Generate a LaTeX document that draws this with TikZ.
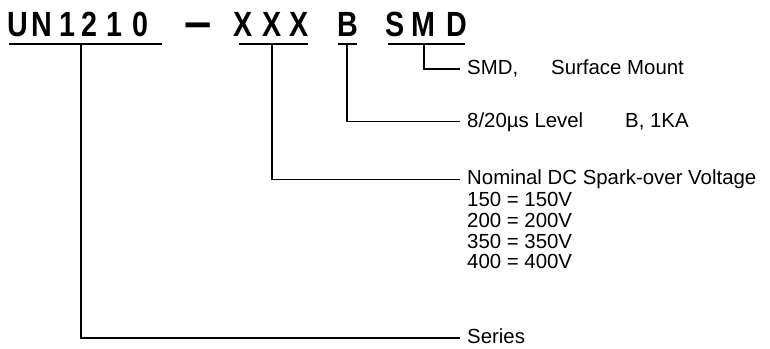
\documentclass[tikz,border=0pt]{standalone}
\usepackage{graphicx}
\usepackage{fontspec}
\setmainfont{Liberation Sans}
\begin{document}
\begin{tikzpicture}[x=1pt,y=-1pt,
  titlech/.style={anchor=base, inner sep=0pt, font=\fontsize{35}{40}\selectfont\bfseries},
  lbl/.style={anchor=base west, inner xsep=7pt, inner ysep=0pt, text height=11pt, text depth=0pt, font=\fontsize{20.4}{24}\selectfont},
  bar/.style={line width=1.5pt},
  conn/.style={line width=1.5pt}]
\useasboundingbox (0,0) rectangle (770,348);
% title characters
\node[titlech] (t1) at (18,36) {\scalebox{0.82}[1]{U}};
\node[titlech] (t2) at (41.5,36) {\scalebox{0.82}[1]{N}};
\node[titlech] (t3) at (67.5,36) {\scalebox{0.82}[1]{1}};
\node[titlech] (t4) at (89.5,36) {\scalebox{0.82}[1]{2}};
\node[titlech] (t5) at (114.5,36) {\scalebox{0.82}[1]{1}};
\node[titlech] (t6) at (140,36) {\scalebox{0.82}[1]{0}};
\node[titlech, anchor=north] (t7) at (198,22.3) {\scalebox{1.4}[1.4]{–}};
\node[titlech] (t8) at (243,36) {\scalebox{0.82}[1]{X}};
\node[titlech] (t9) at (272,36) {\scalebox{0.82}[1]{X}};
\node[titlech] (t10) at (299,36) {\scalebox{0.82}[1]{X}};
\node[titlech] (t11) at (347.5,36) {\scalebox{0.82}[1]{B}};
\node[titlech] (t12) at (395,36) {\scalebox{0.82}[1]{S}};
\node[titlech] (t13) at (423,36) {\scalebox{0.82}[1]{M}};
\node[titlech] (t14) at (456.5,36) {\scalebox{0.82}[1]{D}};
% underlines
\coordinate (u1a) at (9,44);   \coordinate (u1b) at (162,44); \coordinate (j1) at (81,44);
\coordinate (u2a) at (239,44); \coordinate (u2b) at (308,44); \coordinate (j2) at (272,44);
\coordinate (u3a) at (338,44); \coordinate (u3b) at (357,44); \coordinate (j3) at (347,44);
\coordinate (u4a) at (388,44); \coordinate (u4b) at (465,44); \coordinate (j4) at (424,44);
\draw[bar] (u1a) -- (u1b);
\draw[bar] (u2a) -- (u2b);
\draw[bar] (u3a) -- (u3b);
\draw[bar] (u4a) -- (u4b);
% labels
\node[lbl] (smd) at (460,74.5) {\makebox[84pt][l]{SMD,}Surface Mount};
\node[lbl] (lvl) at (460,127.2) {\makebox[158pt][l]{8/20µs Level}B, 1KA};
\node[lbl] (nom) at (460,184.8) {Nominal DC Spark-over Voltage};
\node[lbl] (v150) at (460,206.7) {150 = 150V};
\node[lbl] (v200) at (460,227.3) {200 = 200V};
\node[lbl] (v350) at (460,248) {350 = 350V};
\node[lbl] (v400) at (460,268.7) {400 = 400V};
\node[lbl] (series) at (460,343.5) {Series};
% connectors
\draw[conn] (j4) |- (smd.west);
\draw[conn] (j3) |- (lvl.west);
\draw[conn] (j2) |- (nom.west);
\draw[conn] (j1) |- (series.west);
\end{tikzpicture}
\end{document}
